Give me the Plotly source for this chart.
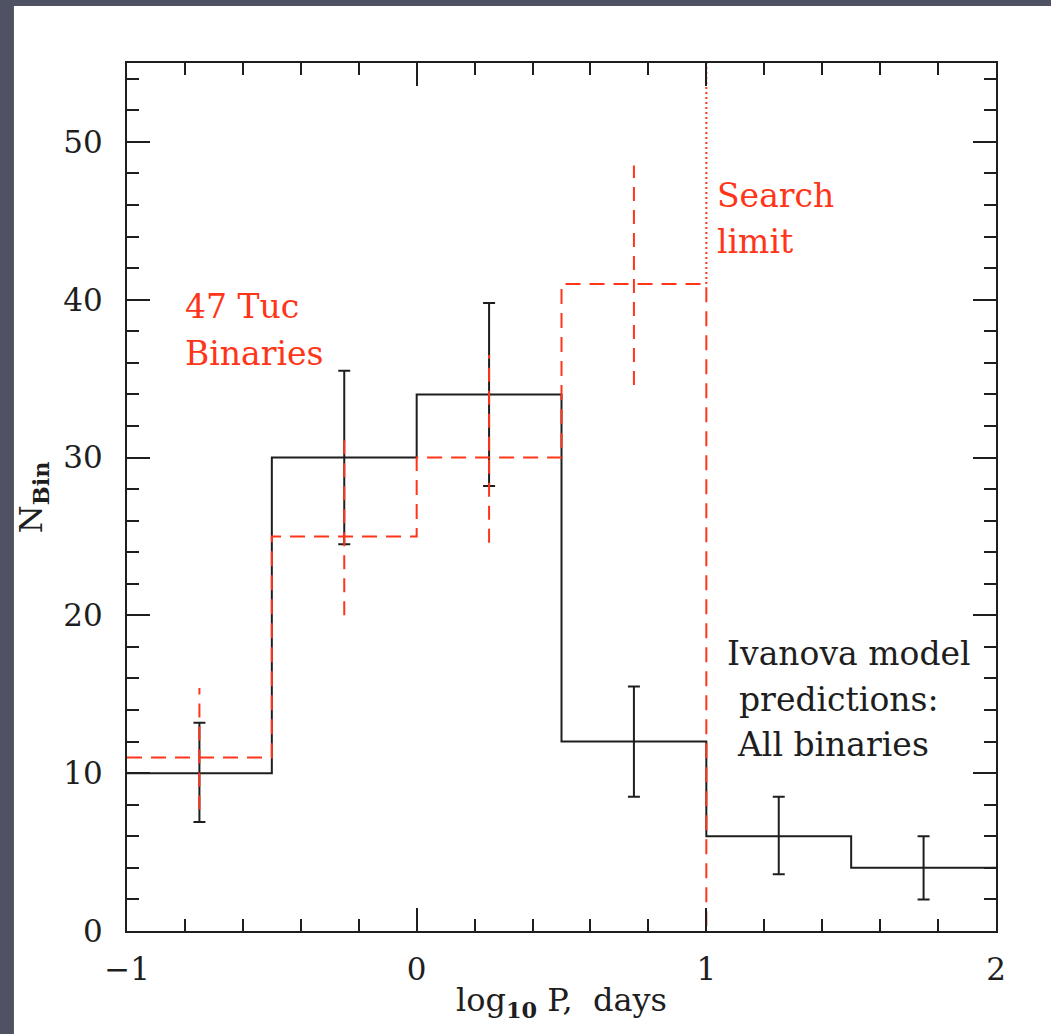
import plotly.graph_objects as go

# ---- data ----
bin_edges = [-1.0, -0.5, 0.0, 0.5, 1.0, 1.5, 2.0]
model_counts = [10, 30, 34, 12, 6, 4]
model_centers = [-0.75, -0.25, 0.25, 0.75, 1.25, 1.75]
model_err_lo = [6.9, 24.5, 28.2, 8.5, 3.6, 2.0]
model_err_hi = [13.2, 35.5, 39.8, 15.5, 8.5, 6.0]

obs_edges = [-1.0, -0.5, 0.0, 0.5, 1.0]
obs_counts = [11, 25, 30, 41]
obs_centers = [-0.75, -0.25, 0.25, 0.75]
obs_err_lo = [7.7, 20.0, 24.6, 34.6]
obs_err_hi = [15.4, 31.1, 36.5, 48.5]

search_limit = 1.0
x_ticks = [-1, 0, 1, 2]
y_ticks = [0, 10, 20, 30, 40, 50]

RED = "#ff3519"
BLACK = "#1e1e1e"
FONT = "DejaVu Serif"

fig = go.Figure()

# model histogram (black, solid)
fig.add_trace(go.Scatter(
    x=bin_edges, y=model_counts + [model_counts[-1]],
    mode="lines", line=dict(color=BLACK, width=2, shape="hv"),
    hoverinfo="skip", showlegend=False))

# model error bars with caps
fig.add_trace(go.Scatter(
    x=model_centers, y=model_counts, mode="markers",
    marker=dict(size=1, color="rgba(0,0,0,0)"),
    error_y=dict(type="data", symmetric=False,
                 array=[h - c for h, c in zip(model_err_hi, model_counts)],
                 arrayminus=[c - l for c, l in zip(model_counts, model_err_lo)],
                 color=BLACK, thickness=2, width=6),
    hoverinfo="skip", showlegend=False))

# observed histogram (red, dashed), drops to zero at the search limit
fig.add_trace(go.Scatter(
    x=obs_edges, y=obs_counts + [0],
    mode="lines", line=dict(color=RED, width=2, shape="hv", dash="15px,9px"),
    hoverinfo="skip", showlegend=False))

# observed error bars (red, dashed, no caps)
ex, ey = [], []
for c, lo, hi in zip(obs_centers, obs_err_lo, obs_err_hi):
    ex += [c, c, None]
    ey += [lo, hi, None]
fig.add_trace(go.Scatter(
    x=ex, y=ey, mode="lines",
    line=dict(color=RED, width=2, dash="14px,9px"),
    hoverinfo="skip", showlegend=False))

# search limit (dotted)
fig.add_trace(go.Scatter(
    x=[search_limit, search_limit], y=[obs_counts[-1], 55],
    mode="lines", line=dict(color=RED, width=2, dash="2px,3px"),
    hoverinfo="skip", showlegend=False, cliponaxis=False))

# white slide panel
fig.add_shape(type="rect", xref="paper", yref="paper",
              x0=-0.1301, x1=1.2124, y0=-0.125, y1=1.0657,
              fillcolor="white", line=dict(width=0), layer="below")

ann_font_red = dict(family=FONT, size=33, color=RED)
ann_font_blk = dict(family=FONT, size=33, color=BLACK)
for txt, x, y, f in [
    ("47 Tuc", -0.807, 39.6, ann_font_red),
    ("Binaries", -0.807, 36.6, ann_font_red),
    ("Search", 1.031, 46.6, ann_font_red),
    ("limit", 1.031, 43.7, ann_font_red),
    ("Ivanova model", 1.066, 17.6, ann_font_blk),
    ("predictions:", 1.107, 14.7, ann_font_blk),
    ("All binaries", 1.10, 11.8, ann_font_blk),
]:
    fig.add_annotation(x=x, y=y, xref="x", yref="y", text=txt, showarrow=False,
                       xanchor="left", yanchor="middle", font=f)

# axis titles
fig.add_annotation(x=0.5, y=-0.082, xref="paper", yref="paper",
                   text="log<sub><b>10</b></sub> P,  days", showarrow=False,
                   xanchor="center", yanchor="middle",
                   font=dict(family=FONT, size=32, color=BLACK))
fig.add_annotation(x=-0.108, y=0.5, xref="paper", yref="paper",
                   text="N<sub><b>Bin</b></sub>", showarrow=False, textangle=-90,
                   xanchor="center", yanchor="middle",
                   font=dict(family=FONT, size=32, color=BLACK))

axis_common = dict(
    showline=True, linecolor=BLACK, linewidth=2, mirror="ticks",
    ticks="inside", ticklen=23, tickwidth=2, tickcolor=BLACK,
    showgrid=False, zeroline=False,
    tickfont=dict(family=FONT, size=31, color=BLACK),
)

fig.update_xaxes(range=[-1, 2], tickvals=x_ticks, ticklabelstandoff=10,
                 minor=dict(dtick=0.2, ticks="inside", ticklen=12, tickwidth=2,
                            tickcolor=BLACK, showgrid=False),
                 **axis_common)
fig.update_yaxes(range=[0, 55], tickvals=y_ticks, ticklabelstandoff=16,
                 minor=dict(dtick=2, ticks="inside", ticklen=12, tickwidth=2,
                            tickcolor=BLACK, showgrid=False),
                 **axis_common)

fig.update_layout(
    width=1051, height=1034,
    margin=dict(l=127, r=55, t=63, b=103, autoexpand=False),
    paper_bgcolor="#4e5262", plot_bgcolor="white",
    showlegend=False,
)

fig.write_html("out.html")
